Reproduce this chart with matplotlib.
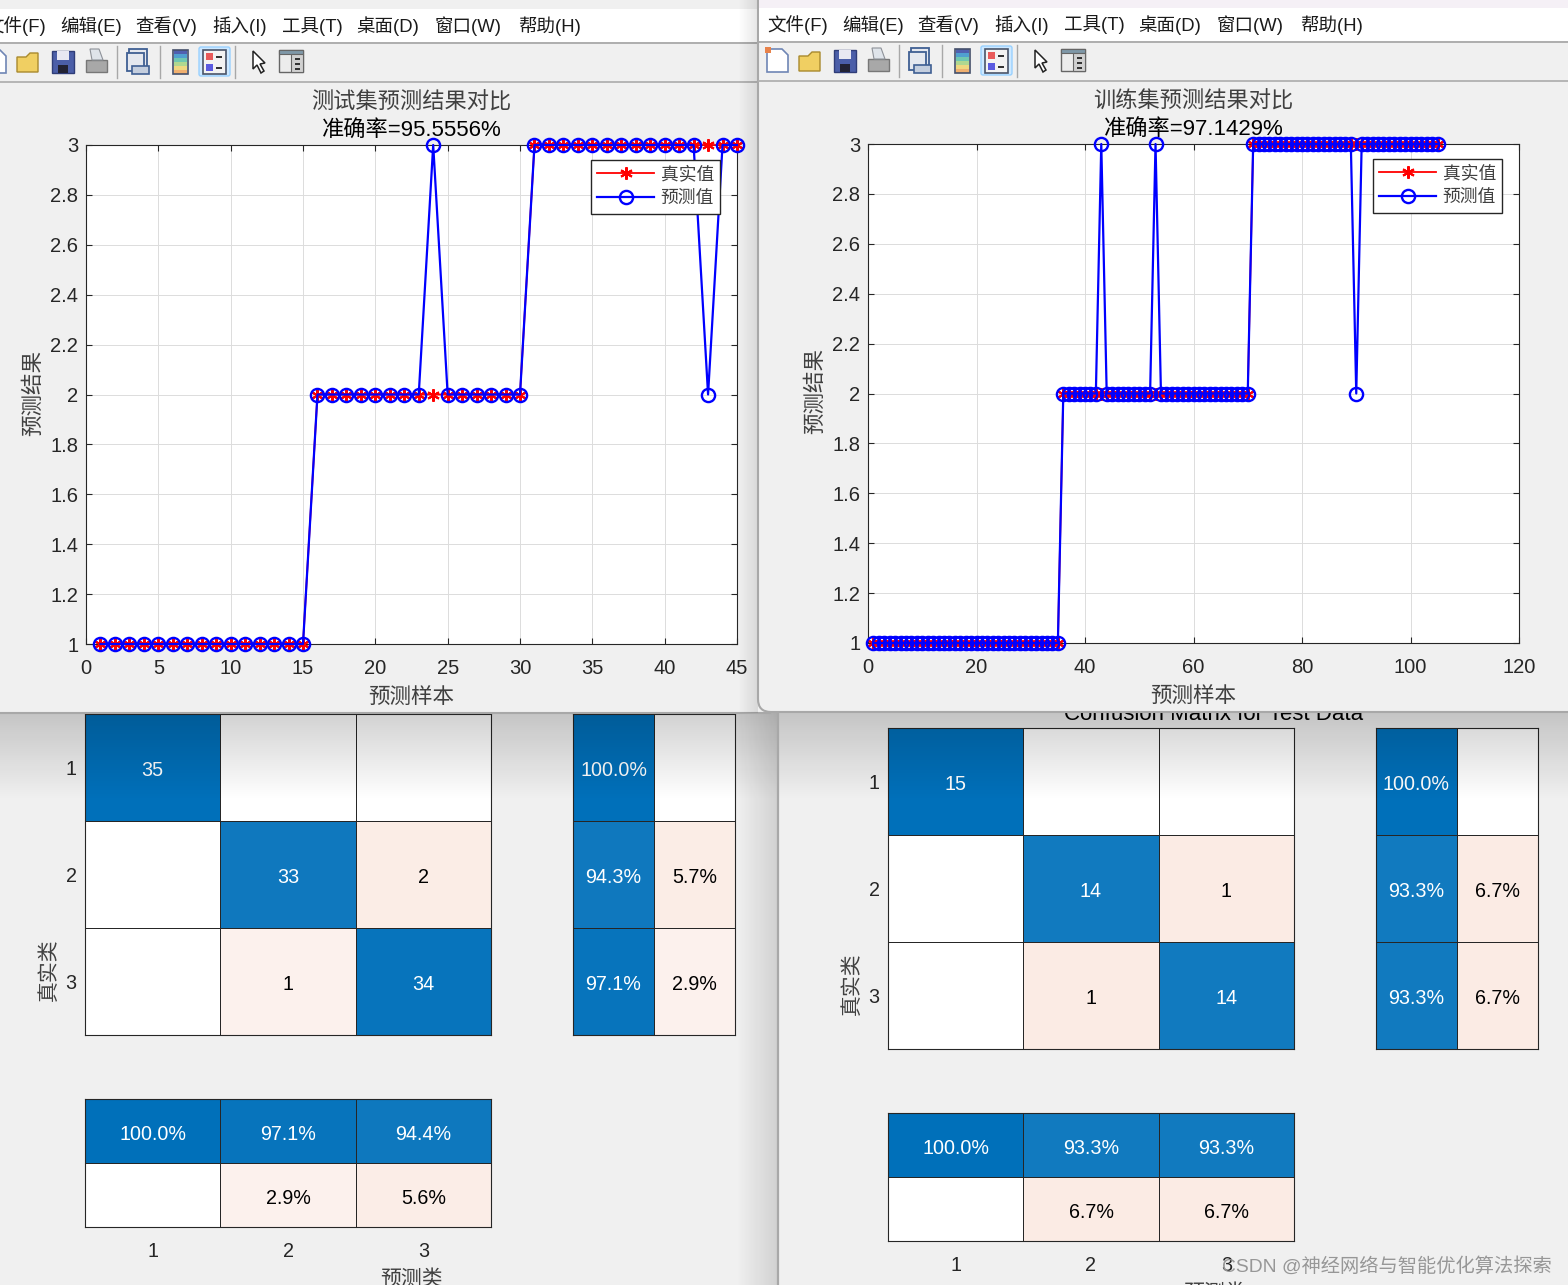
import matplotlib
matplotlib.use('Agg')
import matplotlib.pyplot as plt
from matplotlib.patches import Rectangle, Polygon, FancyBboxPatch
import numpy as np

plt.rcParams['font.family'] = ['Liberation Sans', 'Noto Sans CJK SC']

W, H = 1568, 1285
BG = '#f0f0f0'
DARK = '#262626'

# 测试集
test_true = [1, 1, 1, 1, 1, 1, 1, 1, 1, 1, 1, 1, 1, 1, 1,
             2, 2, 2, 2, 2, 2, 2, 2, 2, 2, 2, 2, 2, 2, 2,
             3, 3, 3, 3, 3, 3, 3, 3, 3, 3, 3, 3, 3, 3, 3]
test_pred = [1, 1, 1, 1, 1, 1, 1, 1, 1, 1, 1, 1, 1, 1, 1,
             2, 2, 2, 2, 2, 2, 2, 2, 3, 2, 2, 2, 2, 2, 2,
             3, 3, 3, 3, 3, 3, 3, 3, 3, 3, 3, 3, 2, 3, 3]

# 训练集
train_true = [1, 1, 1, 1, 1, 1, 1, 1, 1, 1, 1, 1, 1, 1, 1, 1, 1, 1, 1, 1,
              1, 1, 1, 1, 1, 1, 1, 1, 1, 1, 1, 1, 1, 1, 1,
              2, 2, 2, 2, 2, 2, 2, 2, 2, 2, 2, 2, 2, 2, 2, 2, 2, 2, 2, 2,
              2, 2, 2, 2, 2, 2, 2, 2, 2, 2, 2, 2, 2, 2, 2,
              3, 3, 3, 3, 3, 3, 3, 3, 3, 3, 3, 3, 3, 3, 3, 3, 3, 3, 3, 3,
              3, 3, 3, 3, 3, 3, 3, 3, 3, 3, 3, 3, 3, 3, 3]
train_pred = [1, 1, 1, 1, 1, 1, 1, 1, 1, 1, 1, 1, 1, 1, 1, 1, 1, 1, 1, 1,
              1, 1, 1, 1, 1, 1, 1, 1, 1, 1, 1, 1, 1, 1, 1,
              2, 2, 2, 2, 2, 2, 2, 3, 2, 2, 2, 2, 2, 2, 2, 2, 2, 3, 2, 2,
              2, 2, 2, 2, 2, 2, 2, 2, 2, 2, 2, 2, 2, 2, 2,
              3, 3, 3, 3, 3, 3, 3, 3, 3, 3, 3, 3, 3, 3, 3, 3, 3, 3, 3, 2,
              3, 3, 3, 3, 3, 3, 3, 3, 3, 3, 3, 3, 3, 3, 3]

# 混淆矩阵 (0 表示空格)
back_left_cm = [[35, 0, 0], [0, 33, 2], [0, 1, 34]]
back_left_row = [[100.0, 0], [94.3, 5.7], [97.1, 2.9]]
back_left_col = [[100.0, 97.1, 94.4], [0, 2.9, 5.6]]

back_right_cm = [[15, 0, 0], [0, 14, 1], [0, 1, 14]]
back_right_row = [[100.0, 0], [93.3, 6.7], [93.3, 6.7]]
back_right_col = [[100.0, 93.3, 93.3], [0, 6.7, 6.7]]

class_labels = ['1', '2', '3']
menu_items = ['文件(F)', '编辑(E)', '查看(V)', '插入(I)', '工具(T)', '桌面(D)', '窗口(W)', '帮助(H)']
menu_x = [-15, 60, 135, 212, 282, 356, 435, 518]

fig = plt.figure(figsize=(W / 100, H / 100), dpi=100, facecolor=BG)


def px_axes(x0, y0, x1, y1, z):
    ax = fig.add_axes([x0 / W, 1 - y1 / H, (x1 - x0) / W, (y1 - y0) / H])
    ax.set_zorder(z)
    return ax


def layer(z):
    # 整张图大小的像素坐标层
    ax = px_axes(0, 0, W, H, z)
    ax.axis('off')
    return ax


def reset(ax):
    ax.set_xlim(0, W)
    ax.set_ylim(H, 0)


def shade(ax, x0, y0, x1, y1, a0, a1, vertical=True, n=80):
    # 窗口阴影, 从 a0 渐变到 a1
    t = np.linspace(a0, a1, n)
    img = np.zeros((n, 1, 4)) if vertical else np.zeros((1, n, 4))
    img[..., 3] = t.reshape(-1, 1) if vertical else t.reshape(1, -1)
    ax.imshow(img, extent=(x0, x1, y1, y0), aspect='auto', interpolation='bilinear', zorder=2)
    reset(ax)


def cell_rgb(frac, is_main):
    blue = np.array([0, 112, 186]) / 255
    red = np.array([217, 83, 25]) / 255
    white = np.ones(3)
    if frac == 0:
        return white
    if is_main:
        return white + (blue - white) * frac
    return white + (red - white) * (0.05 + frac)


def matrix_axes(box, values, main_mask, fmt, total=None):
    x0, y0, x1, y1 = box
    ax = px_axes(x0, y0, x1, y1, 1)
    arr = np.array(values, dtype=float)
    nrow, ncol = arr.shape
    rgb = np.zeros((nrow, ncol, 3))
    for i in range(nrow):
        for j in range(ncol):
            frac = arr[i, j] / total if total else arr[i, j] / 100
            main = main_mask(i, j)
            rgb[i, j] = cell_rgb(frac, main)
            if arr[i, j] != 0:
                ax.annotate(fmt.format(arr[i, j]), (j + 0.5, i + 0.5), xytext=(0, -1),
                            textcoords='offset pixels', ha='center', va='center_baseline',
                            fontsize=14.2, color='white' if main else 'black')
    ax.pcolormesh(np.arange(ncol + 1), np.arange(nrow + 1), rgb, edgecolors=DARK, linewidth=0.6)
    ax.set_xlim(0, ncol)
    ax.set_ylim(nrow, 0)
    ax.tick_params(length=0, labelsize=14.2, labelcolor=DARK)
    ax.set_xticks([])
    ax.set_yticks([])
    for s in ax.spines.values():
        s.set_color(DARK)
        s.set_linewidth(0.8)
    return ax


def draw_back(dx, dy, cm, row, col, total, back):
    cols = [85, 491, 573, 735]
    main = matrix_axes((cols[0] + dx, 714 + dy, cols[1] + dx, 1035 + dy), cm,
                       lambda i, j: i == j, '{:.0f}', total)
    main.set_yticks([0.5, 1.5, 2.5], class_labels)
    main.tick_params(axis='y', pad=6)
    for t in main.get_yticklabels():
        t.set_va('center_baseline')
    matrix_axes((cols[2] + dx, 714 + dy, cols[3] + dx, 1035 + dy), row,
                lambda i, j: j == 0, '{:.1f}%')
    low = matrix_axes((cols[0] + dx, 1099 + dy, cols[1] + dx, 1227 + dy), col,
                      lambda i, j: i == 0, '{:.1f}%')
    low.set_xticks([0.5, 1.5, 2.5], class_labels)
    low.tick_params(axis='x', pad=10.5)
    back.text(49 + dx, 970 + dy, '真实类', rotation=90, ha='center', va='center', fontsize=15, color='#404040')
    back.text(412 + dx, 1279 + dy, '预测类', ha='center', va='center', fontsize=15, color='#404040')


def toolbar_icons(ax, dx, dy):
    ax.add_patch(Polygon([(-15 + dx, 50 + dy), (0 + dx, 50 + dy), (6 + dx, 56 + dy), (6 + dx, 73 + dy),
                          (-15 + dx, 73 + dy)], fc='white', ec='#6f86b5', lw=1.2))
    ax.add_patch(Rectangle((-17 + dx, 48 + dy), 6, 6, fc='#e8824a', ec='none'))
    # 打开
    ax.add_patch(Polygon([(17 + dx, 57 + dy), (26 + dx, 57 + dy), (30 + dx, 53 + dy), (38 + dx, 53 + dy),
                          (38 + dx, 72 + dy), (17 + dx, 72 + dy)], fc='#f0cf62', ec='#a98a2e', lw=1))
    # 保存
    ax.add_patch(Rectangle((52 + dx, 51 + dy), 22, 22, fc='#4b5ea8', ec='#2f3d78', lw=1))
    ax.add_patch(Rectangle((57 + dx, 51 + dy), 12, 9, fc='#e8e8f2', ec='none'))
    ax.add_patch(Rectangle((58 + dx, 65 + dy), 10, 8, fc='#222233', ec='none'))
    # 打印
    ax.add_patch(Rectangle((86 + dx, 60 + dy), 21, 12, fc='#a8a8a8', ec='#777777', lw=1))
    ax.add_patch(Polygon([(90 + dx, 49 + dy), (99 + dx, 49 + dy), (103 + dx, 60 + dy), (92 + dx, 60 + dy)],
                         fc='#dfe4ea', ec='#8e9299', lw=0.8))
    # 链接
    ax.add_patch(Rectangle((129 + dx, 49 + dy), 18, 18, fc='#e5e8ef', ec='#3f5f93', lw=1.3))
    ax.add_patch(Rectangle((127 + dx, 53 + dy), 17, 18, fc='#e5e8ef', ec='#3f5f93', lw=1.3))
    ax.add_patch(Rectangle((132 + dx, 66 + dy), 17, 8, fc='#c4cede', ec='#3f5f93', lw=1.2))
    # 颜色栏
    bar_cols = ['#5060b0', '#50a0d0', '#70c8b0', '#b0d890', '#f0d880', '#f0b070']
    for k, c in enumerate(bar_cols):
        ax.add_patch(Rectangle((174 + dx, 50 + dy + k * 4), 13, 4, fc=c, ec='none'))
    ax.add_patch(Rectangle((173 + dx, 50 + dy), 15, 24, fc='none', ec='#45506a', lw=1.2))
    # 图例
    ax.add_patch(FancyBboxPatch((199 + dx, 47 + dy), 31, 29, boxstyle='round,pad=0,rounding_size=2',
                                fc='#cde8ff', ec='#99d1ff', lw=1))
    ax.add_patch(Rectangle((203 + dx, 50 + dy), 23, 24, fc='#f2f2f2', ec='#4a5468', lw=1.2))
    ax.add_patch(Rectangle((206 + dx, 53 + dy), 7, 7, fc='#e85a5a', ec='none'))
    ax.add_patch(Rectangle((206 + dx, 64 + dy), 7, 7, fc='#5a5ae0', ec='none'))
    ax.add_patch(Rectangle((216 + dx, 56 + dy), 6, 1.5, fc='#333333', ec='none'))
    ax.add_patch(Rectangle((216 + dx, 67 + dy), 6, 1.5, fc='#333333', ec='none'))
    # 箭头
    ax.add_patch(Polygon([(253 + dx, 51 + dy), (253 + dx, 69 + dy), (257 + dx, 65 + dy), (261 + dx, 73 + dy),
                          (264 + dx, 71 + dy), (260 + dx, 64 + dy), (265 + dx, 63 + dy)],
                         fc='white', ec='#222222', lw=1.1))
    # 面板
    ax.add_patch(Rectangle((279 + dx, 50 + dy), 24, 22, fc='#ececec', ec='#666666', lw=1))
    ax.add_patch(Rectangle((279 + dx, 50 + dy), 24, 4, fc='#7f98a8', ec='#666666', lw=0.8))
    ax.add_patch(Rectangle((291 + dx, 54 + dy), 12, 18, fc='#d0d0d0', ec='#666666', lw=0.8))
    for yy in (58, 63, 68):
        ax.add_patch(Rectangle((295 + dx, yy + dy), 5, 1.5, fc='#333333', ec='none'))
    for xx in (117, 160, 235):
        ax.plot([xx + dx, xx + dx], [46 + dy, 78 + dy], color='#a8a8a8', lw=1)


def draw_window(ax, dx, dy, x1, band_color, rounded):
    x0 = -20 if dx == 0 else 758
    if rounded:
        ax.add_patch(FancyBboxPatch((x0, -30), x1 - x0, 712 + 30, boxstyle='round,pad=0,rounding_size=13',
                                    fc=BG, ec='#a8a8a8', lw=1.5))
    else:
        ax.add_patch(Rectangle((x0, -30), x1 - x0, 713 + 30, fc=BG, ec='#a8a8a8', lw=1.5))
    ax.add_patch(Rectangle((x0 + 1, 0), x1 - x0, 9 + dy, fc=band_color, ec='none'))
    ax.add_patch(Rectangle((x0 + 1, 9 + dy), x1 - x0, 33, fc='white', ec='none'))
    ax.plot([x0 + 1, x1], [42.5 + dy, 42.5 + dy], color='#a8a8a8', lw=1.3)
    ax.plot([x0 + 1, x1], [81.5 + dy, 81.5 + dy], color='#b0b0b0', lw=1.3)
    for name, mx in zip(menu_items, menu_x):
        ax.text(mx + dx, 26 + dy, name, ha='left', va='center', fontsize=13.3, color='#1a1a1a')
    toolbar_icons(ax, dx, dy)
    reset(ax)


def draw_plot(box, ax_txt, y_true, y_pred, xlim, xstep, title, acc, legend_xy):
    x0, y0, x1, y1 = box
    ax = px_axes(x0, y0, x1, y1, ax_txt.get_zorder() + 0.5)
    n = np.arange(1, len(y_true) + 1)
    ax.plot(n, y_true, color='red', marker=(6, 2, 0), lw=1.3, ms=9, mew=1.5, clip_on=False,
            label='真实值', zorder=3)
    ax.plot(n, y_pred, color='blue', marker='o', mfc='none', lw=1.6, ms=9.5, mew=1.7, clip_on=False,
            label='预测值', zorder=4)
    ax.set_xlim(0, xlim)
    ax.set_ylim(1, 3)
    ax.set_xticks(np.arange(0, xlim + 1, xstep))
    ax.set_yticks(np.arange(1, 3.01, 0.2))
    ax.set_yticklabels(['1', '1.2', '1.4', '1.6', '1.8', '2', '2.2', '2.4', '2.6', '2.8', '3'])
    ax.tick_params(direction='in', top=True, right=True, length=4.5, width=0.8, color=DARK,
                   labelsize=14.5, labelcolor=DARK)
    ax.tick_params(axis='x', pad=11)
    ax.tick_params(axis='y', pad=5.5)
    ax.grid(True, color='#dcdcdc', lw=0.7)
    ax.set_axisbelow(True)
    for s in ax.spines.values():
        s.set_color(DARK)
        s.set_linewidth(0.8)
    ax.legend(loc='upper left', bbox_to_anchor=(legend_xy[0] / W, 1 - legend_xy[1] / H),
              bbox_transform=fig.transFigure, borderaxespad=0, fancybox=False, framealpha=1,
              edgecolor=DARK, fontsize=12.8, handlelength=3.2, numpoints=1, labelspacing=0.38,
              borderpad=0.36, handletextpad=0.35, labelcolor='#404040')
    cx = (x0 + x1) / 2
    ax_txt.text(cx, y0 - 42, title, ha='center', va='center', fontsize=16, color='#404040')
    ax_txt.text(cx, y0 - 14, acc, ha='center', va='center', fontsize=16, color='black')
    ax_txt.text(cx, y1 + 53, '预测样本', ha='center', va='center', fontsize=15.5, color='#404040')
    ax_txt.text(x0 - 52, (y0 + y1) / 2 - 2, '预测结果', rotation=90, ha='center', va='center',
                fontsize=15.5, color='#404040')
    return ax


# 后面两个窗口
back = layer(0)
reset(back)
draw_back(0, 0, back_left_cm, back_left_row, back_left_col, 35, back)
draw_back(803, 14, back_right_cm, back_right_row, back_right_col, 15, back)
back.text(1214, 714, 'Confusion Matrix for Test Data', ha='center', va='center', fontsize=16, color='black')

# 阴影
shadow = layer(2)
reset(shadow)
shade(shadow, 0, 713, W, 800, 0.18, 0.0)
shade(shadow, 736, 713, 778, H, 0.0, 0.13, vertical=False)
shadow.plot([778, 778], [713, H], color='#a8a8a8', lw=1.6)

# 前面的左窗口
win_left = layer(3)
draw_window(win_left, 0, 0, 770, BG, False)
plot_left = draw_plot((86, 145, 737, 644), win_left, test_true, test_pred, 45, 5,
                      '测试集预测结果对比', '准确率=95.5556%', (591, 160))

# 右窗口投在左窗口上的阴影
shadow2 = layer(4)
reset(shadow2)
shade(shadow2, 738, 0, 758, 713, 0.0, 0.1, vertical=False)

# 前面的右窗口
win_right = layer(5)
draw_window(win_right, 782, -1, W + 30, '#f5f0f6', True)
plot_right = draw_plot((868, 144, 1519, 643), win_right, train_true, train_pred, 120, 20,
                       '训练集预测结果对比', '准确率=97.1429%', (1373, 159))

# 水印
top = layer(8)
reset(top)
top.text(1222, 1266, 'CSDN @神经网络与智能优化算法探索', ha='left', va='center', fontsize=13.9, color='#979797')

fig.savefig('out.png', dpi=100, facecolor=BG)
